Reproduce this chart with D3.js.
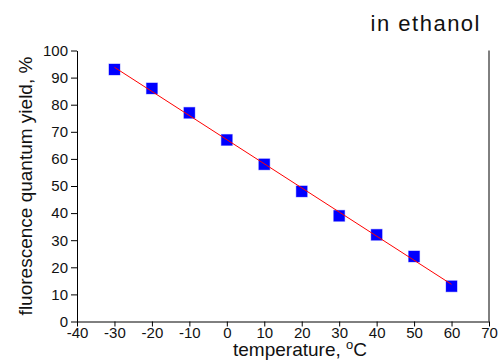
<!DOCTYPE html>
<html>
<head>
<meta charset="utf-8">
<script src="https://cdn.jsdelivr.net/npm/d3@7"></script>
<style>
  html, body { margin: 0; padding: 0; background: #fff; }
  svg { display: block; font-family: "Liberation Sans", Arial, sans-serif; }
  .axis path, .axis line { stroke: #000; }
  .axis text { fill: #111; }
</style>
</head>
<body>
<svg id="chart" width="501" height="363"></svg>
<script>
// data
var temps = [-30, -20, -10, 0, 10, 20, 30, 40, 50, 60];
var yields = [93, 86, 77, 67, 58, 48, 39, 32, 24, 13];
// fitted line end points
var fitTemps = [-30, 60];
var fitYields = [93.8, 13.7];
var xTicks = [-40, -30, -20, -10, 0, 10, 20, 30, 40, 50, 60, 70];
var yTicks = [0, 10, 20, 30, 40, 50, 60, 70, 80, 90, 100];

var svg = d3.select('#chart');

var x = d3.scaleLinear().domain([-40, 70]).range([77, 489]);
var y = d3.scaleLinear().domain([0, 100]).range([321.5, 50.5]);

// plain hyphen for negatives, like the original
var fmt = function(d) { return String(d); };

// axes
svg.append('g')
  .attr('class', 'axis')
  .attr('transform', 'translate(0,' + y(0) + ')')
  .call(d3.axisBottom(x).tickValues(xTicks).tickFormat(fmt).tickSize(5).tickSizeOuter(0).tickPadding(1))
  .selectAll('text').attr('font-size', 15);

svg.append('g')
  .attr('class', 'axis')
  .attr('transform', 'translate(' + x(-40) + ',0)')
  .call(d3.axisLeft(y).tickValues(yTicks).tickFormat(fmt).tickSize(6).tickSizeOuter(0).tickPadding(3))
  .selectAll('text').attr('font-size', 15);

svg.selectAll('.axis text').attr('font-family', '"Liberation Sans", Arial, sans-serif');

// right border
svg.append('line')
  .attr('x1', x(70)).attr('x2', x(70))
  .attr('y1', y(100)).attr('y2', y(0))
  .attr('stroke', '#000');

// markers
var s = 11;
svg.selectAll('rect.pt')
  .data(temps)
  .enter().append('rect')
  .attr('class', 'pt')
  .attr('x', function(d) { return x(d) - s / 2; })
  .attr('y', function(d, i) { return y(yields[i]) - s / 2; })
  .attr('width', s)
  .attr('height', s)
  .attr('fill', '#0000ff')
  .attr('stroke', 'rgba(0,0,255,0.35)')
  .attr('stroke-width', 1);

// fit line
var line = d3.line()
  .x(function(d) { return x(d); })
  .y(function(d, i) { return y(fitYields[i]); });
svg.append('path')
  .datum(fitTemps)
  .attr('d', line)
  .attr('fill', 'none')
  .attr('stroke', '#ff0000')
  .attr('stroke-width', 1);

// labels
var xl = svg.append('text')
  .attr('x', 300).attr('y', 356)
  .attr('text-anchor', 'middle')
  .attr('font-size', 19)
  .attr('fill', '#111');
xl.append('tspan').text('temperature, ');
xl.append('tspan').attr('font-size', 13).attr('dy', -7).text('o');
xl.append('tspan').attr('dy', 7).text('C');

svg.append('text')
  .attr('transform', 'translate(32,' + ((y(0) + y(100)) / 2) + ') rotate(-90)')
  .attr('text-anchor', 'middle')
  .attr('font-size', 19)
  .attr('fill', '#111')
  .text('fluorescence quantum yield, %');

svg.append('text')
  .attr('x', 481).attr('y', 31)
  .attr('text-anchor', 'end')
  .attr('font-size', 22)
  .attr('letter-spacing', 1.5)
  .attr('fill', '#111')
  .text('in ethanol');
</script>
</body>
</html>
